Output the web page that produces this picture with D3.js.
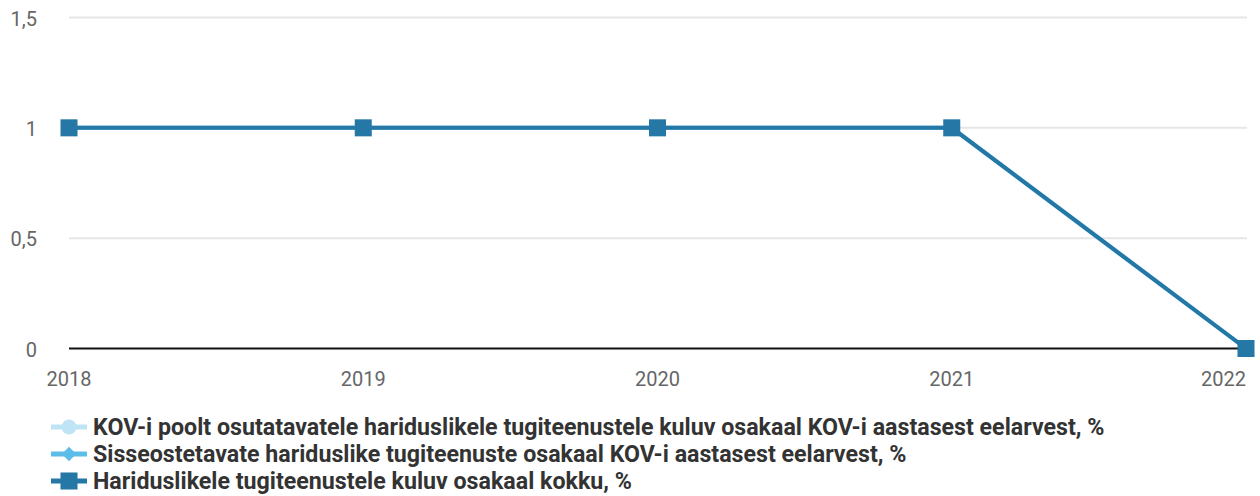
<!DOCTYPE html>
<html>
<head>
<meta charset="utf-8">
<script src="https://cdn.jsdelivr.net/npm/d3@7"></script>
<style>
  html, body { margin: 0; padding: 0; background: #fff; }
  svg { display: block; }
  text { font-family: Roboto, "Noto Sans", sans-serif; }
</style>
</head>
<body>
<svg id="chart" width="1260" height="496"></svg>
<script>
const years = ["2018", "2019", "2020", "2021", "2022"];
const yTicks = [0, 0.5, 1, 1.5];
const seriesNames = [
  "KOV-i poolt osutatavatele hariduslikele tugiteenustele kuluv osakaal KOV-i aastasest eelarvest, %",
  "Sisseostetavate hariduslike tugiteenuste osakaal KOV-i aastasest eelarvest, %",
  "Hariduslikele tugiteenustele kuluv osakaal kokku, %"
];
const ownServices = [1, 1, 1, 1, 0];
const purchasedServices = [1, 1, 1, 1, 0];
const totalShare = [1, 1, 1, 1, 0];

const seriesColors = ["#bfe4f6", "#5cbde9", "#2577a6"];
const seriesSymbols = [d3.symbolCircle, d3.symbolDiamond2, d3.symbolSquare];
const seriesSizes = [180, 130, 290];
const series = [ownServices, purchasedServices, totalShare];

const svg = d3.select("#chart");
const x = d3.scalePoint().domain(years).range([69, 1246]);
const y = d3.scaleLinear().domain([0, 1.5]).range([348.5, 17.5]);

// horizontal gridlines
svg.append("g")
  .selectAll("line")
  .data(yTicks.filter(t => t !== 0))
  .join("line")
  .attr("x1", 69).attr("x2", 1247)
  .attr("y1", d => y(d)).attr("y2", d => y(d))
  .attr("stroke", "#e6e6e6").attr("stroke-width", 2);

// y-axis labels
const fmt = d => String(d).replace(".", ",");
svg.append("g")
  .selectAll("text")
  .data(yTicks)
  .join("text")
  .attr("x", 37).attr("y", d => y(d) + 8)
  .attr("text-anchor", "end")
  .attr("fill", "#666")
  .attr("font-size", 20)
  .text(fmt);

// baseline
svg.append("line")
  .attr("x1", 69).attr("x2", 1247)
  .attr("y1", y(0)).attr("y2", y(0))
  .attr("stroke", "#111").attr("stroke-width", 2);

// x-axis labels
svg.append("g")
  .selectAll("text")
  .data(years)
  .join("text")
  .attr("x", (d, i) => i === years.length - 1 ? 1246 : x(d))
  .attr("y", 386)
  .attr("text-anchor", (d, i) => i === years.length - 1 ? "end" : "middle")
  .attr("fill", "#666")
  .attr("font-size", 20)
  .text(d => d);

// lines and markers
const line = d3.line().x((d, i) => x(years[i])).y(d => y(d));
series.forEach((vals, s) => {
  const g = svg.append("g");
  g.append("path")
    .attr("d", line(vals))
    .attr("fill", "none")
    .attr("stroke", seriesColors[s])
    .attr("stroke-width", 4);
  g.selectAll("path.marker")
    .data(vals)
    .join("path")
    .attr("class", "marker")
    .attr("transform", (d, i) => `translate(${x(years[i])},${y(d)})`)
    .attr("d", d3.symbol().type(seriesSymbols[s]).size(seriesSizes[s]))
    .attr("fill", seriesColors[s]);
});

// legend
const legend = svg.append("g");
seriesNames.forEach((name, s) => {
  const ly = 427 + s * 27;
  const item = legend.append("g").attr("transform", `translate(0,${ly})`);
  item.append("line")
    .attr("x1", 51).attr("x2", 87)
    .attr("stroke", seriesColors[s]).attr("stroke-width", 5);
  item.append("path")
    .attr("transform", "translate(69,0)")
    .attr("d", d3.symbol().type(seriesSymbols[s]).size(seriesSizes[s]))
    .attr("fill", seriesColors[s]);
  item.append("text")
    .attr("x", 93).attr("y", 8)
    .attr("fill", "#333")
    .attr("font-size", 23.2)
    .attr("font-weight", "bold")
    .text(name);
});
</script>
</body>
</html>
